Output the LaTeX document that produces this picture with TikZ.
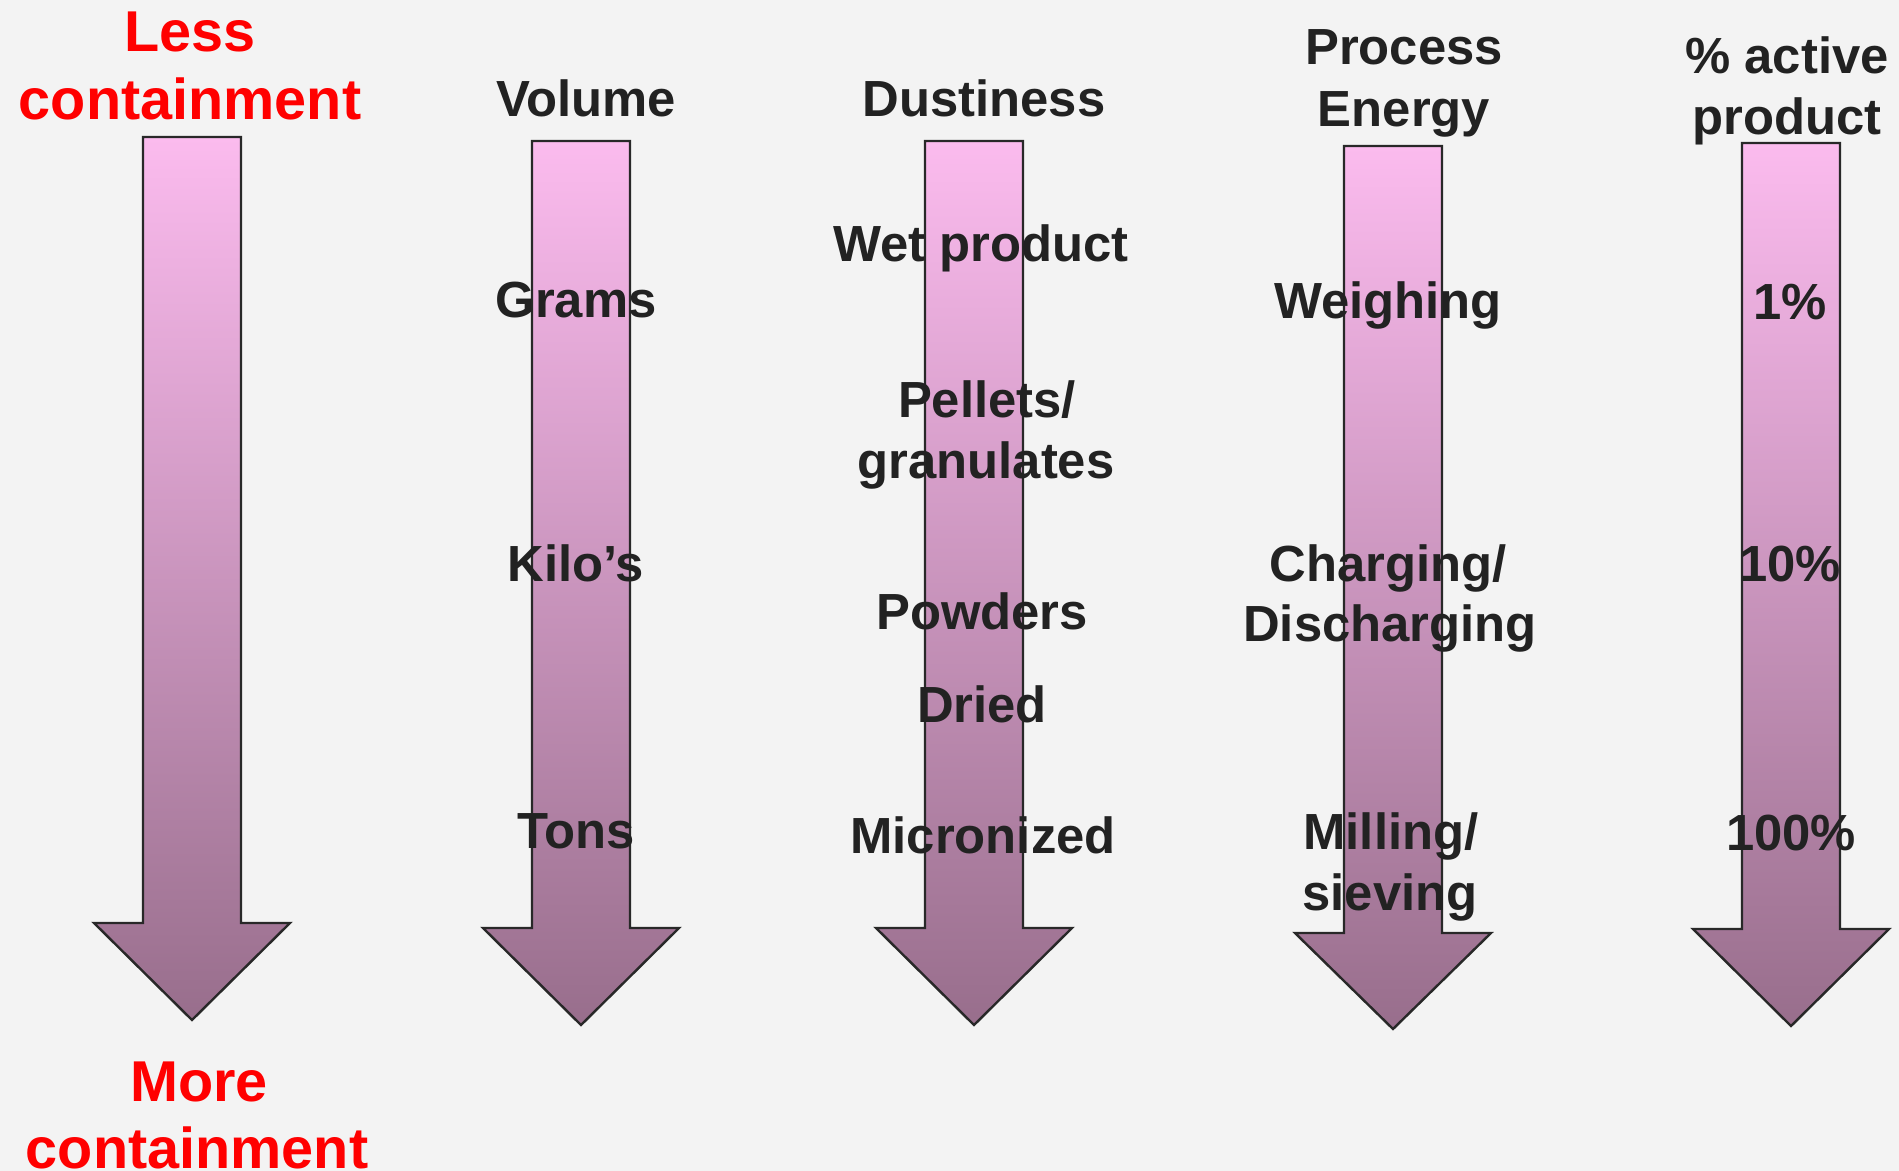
\documentclass[tikz,border=0pt]{standalone}
\usepackage{fontspec}
\setmainfont{Liberation Sans}
\definecolor{bgc}{RGB}{243,243,243}
\definecolor{arrtop}{RGB}{251,187,238}
\definecolor{arrmid}{RGB}{218,160,205}
\definecolor{arrbot}{RGB}{152,110,140}
\definecolor{txt}{RGB}{34,34,34}
\definecolor{redtxt}{RGB}{255,0,0}
\newcommand\BigDownArrow[4]{% cx, top, headbase, tip
  \draw[arrowbody] (#1-49,#2) -- (#1+49,#2) -- (#1+49,#3) -- (#1+98,#3)
    -- (#1,#4) -- (#1-98,#3) -- (#1-49,#3) -- cycle;}
\tikzset{
  arrowbody/.style={draw={rgb,255:red,40;green,40;blue,40}, line width=1.2pt, line join=miter,
    top color=arrtop, middle color=arrmid, bottom color=arrbot},
  lbl/.style={anchor=base, inner sep=0pt, text=txt, font=\bfseries\fontsize{25.4}{30}\selectfont},
  redlbl/.style={anchor=base, inner sep=0pt, text=redtxt, font=\bfseries\fontsize{28.8}{34}\selectfont},
}
\begin{document}
\begin{tikzpicture}[x=0.5pt,y=-0.5pt]
\fill[bgc] (0,0) rectangle (1899,1171);
\path[use as bounding box] (0,0) rectangle (1899,1171);

\BigDownArrow{192}{137}{923}{1020}
\BigDownArrow{581}{141}{928}{1025}
\BigDownArrow{974}{141}{928}{1025}
\BigDownArrow{1393}{146}{933}{1029}
\BigDownArrow{1791}{143}{929}{1026}

% red labels
\node[redlbl] (less1) at (190,52) {Less};
\node[redlbl] (less2) at (190,120) {containment};
\node[redlbl] (more1) at (199,1101) {More};
\node[redlbl] (more2) at (197,1168) {containment};

% headers
\node[lbl] (vol) at (586,117) {Volume};
\node[lbl] (dust) at (984,117) {Dustiness};
\node[lbl] (pe1) at (1404,65) {Process};
\node[lbl] (pe2) at (1404,127) {Energy};
\node[lbl] (ap1) at (1787,74) {\% active};
\node[lbl] (ap2) at (1787,135) {product};

% volume
\node[lbl] (grams) at (576,318) {Grams};
\node[lbl] (kilos) at (576,581) {Kilo’s};
\node[lbl] (tons) at (576,848) {Tons};

% dustiness
\node[lbl] (wet) at (981,262) {Wet product};
\node[lbl] (pel1) at (987,417) {Pellets/};
\node[lbl] (pel2) at (986,478) {granulates};
\node[lbl] (pow) at (982,629) {Powders};
\node[lbl] (dried) at (982,722) {Dried};
\node[lbl] (micro) at (983,853) {Micronized};

% process energy
\node[lbl] (weigh) at (1388,319) {Weighing};
\node[lbl] (ch1) at (1388,581) {Charging/};
\node[lbl] (ch2) at (1390,641) {Discharging};
\node[lbl] (mil1) at (1391,849) {Milling/};
\node[lbl] (mil2) at (1390,910) {sieving};

% % active
\node[lbl] (p1) at (1790,320) {1\%};
\node[lbl] (p10) at (1790,581) {10\%};
\node[lbl] (p100) at (1791,850) {100\%};
\end{tikzpicture}
\end{document}
